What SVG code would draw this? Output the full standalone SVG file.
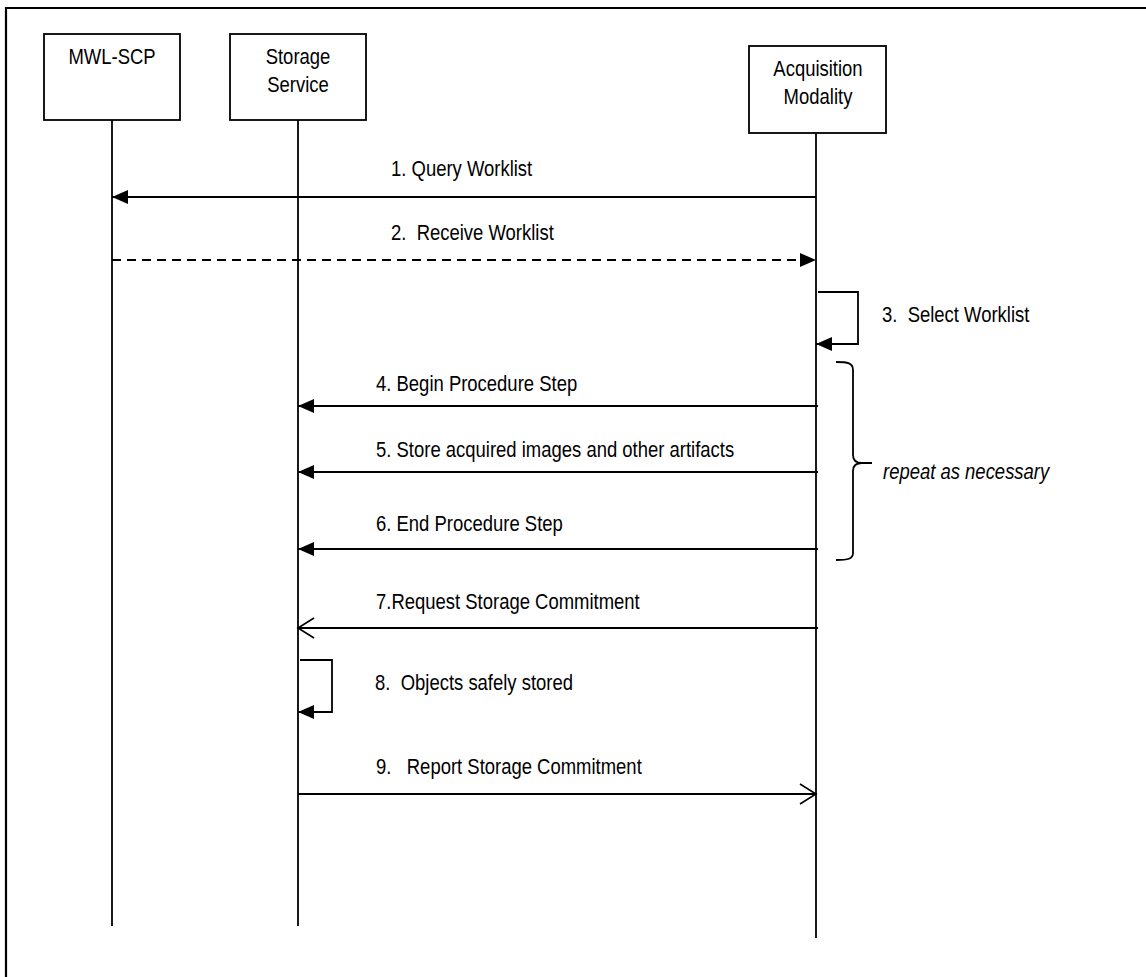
<svg xmlns="http://www.w3.org/2000/svg" width="1146" height="977" viewBox="0 0 1146 977">
<defs>
<style>
.t{font-family:"Liberation Sans",Arial,sans-serif;font-size:22px;fill:#000;white-space:pre}
.box{fill:#fff;stroke:#000;stroke-width:1.8}
.life{stroke:#000;stroke-width:1.8;fill:none}
.msg{stroke:#000;stroke-width:1.8;fill:none}
</style>
<marker id="fh" markerUnits="userSpaceOnUse" markerWidth="18" markerHeight="16" refX="16" refY="7" orient="auto">
<path d="M0,0 L16,7 L0,14 Z" fill="#000"/>
</marker>
<marker id="oh" markerUnits="userSpaceOnUse" markerWidth="20" markerHeight="24" refX="17" refY="11" orient="auto">
<path d="M1,1 L17,11 L1,21" fill="none" stroke="#000" stroke-width="1.6"/>
</marker>
</defs>
<rect width="1146" height="977" fill="#fff"/>
<path d="M6,977 L6,8 L1146,8" fill="none" stroke="#000" stroke-width="2.2"/>

<g id="mwl">
<rect class="box" x="44" y="34" width="136" height="86"/>
<text class="t" text-anchor="middle" transform="translate(112,64) scale(0.84,1)">MWL-SCP</text>
<line class="life" x1="112" y1="120" x2="112" y2="926"/>
</g>
<g id="storage">
<rect class="box" x="230" y="34" width="136" height="86"/>
<text class="t" text-anchor="middle" transform="translate(298,64) scale(0.84,1)">Storage</text>
<text class="t" text-anchor="middle" transform="translate(298,92) scale(0.84,1)">Service</text>
<line class="life" x1="298" y1="120" x2="298" y2="926"/>
</g>
<g id="modality">
<rect class="box" x="749" y="46" width="137" height="87"/>
<text class="t" text-anchor="middle" transform="translate(818,76) scale(0.84,1)">Acquisition</text>
<text class="t" text-anchor="middle" transform="translate(818,104) scale(0.84,1)">Modality</text>
<line class="life" x1="816" y1="133" x2="816" y2="938"/>
</g>

<g id="connectors">
<line class="msg" x1="816" y1="197" x2="112" y2="197" marker-end="url(#fh)"/>
<line class="msg" x1="112" y1="260" x2="816" y2="260" stroke-dasharray="9,6" marker-end="url(#fh)"/>
<polyline class="msg" points="818,292 858,292 858,344 816,344" marker-end="url(#fh)"/>
<line class="msg" x1="818" y1="406" x2="298" y2="406" marker-end="url(#fh)"/>
<line class="msg" x1="818" y1="472" x2="298" y2="472" marker-end="url(#fh)"/>
<line class="msg" x1="818" y1="549" x2="298" y2="549" marker-end="url(#fh)"/>
<line class="msg" x1="818" y1="628" x2="298" y2="628" marker-end="url(#oh)"/>
<polyline class="msg" points="300,660 332,660 332,712 298,712" marker-end="url(#fh)"/>
<line class="msg" x1="298" y1="794" x2="816" y2="794" marker-end="url(#oh)"/>
<path class="msg" d="M836,362 C848,362 853,363 853,370 L853,455 C853,461 856,463 862,463 L872,463 M862,463 C856,463 853,465 853,471 L853,553 C853,559 848,560 836,560"/>
</g>

<g id="labels">
<text class="t" transform="translate(391,176) scale(0.84,1)">1. Query Worklist</text>
<text class="t" transform="translate(391,240) scale(0.84,1)">2.  Receive Worklist</text>
<text class="t" transform="translate(882,322) scale(0.84,1)">3.  Select Worklist</text>
<text class="t" transform="translate(376,391) scale(0.84,1)">4. Begin Procedure Step</text>
<text class="t" transform="translate(376,457) scale(0.84,1)">5. Store acquired images and other artifacts</text>
<text class="t" transform="translate(376,531) scale(0.84,1)">6. End Procedure Step</text>
<text class="t" transform="translate(376,609) scale(0.84,1)">7.Request Storage Commitment</text>
<text class="t" transform="translate(375,690) scale(0.84,1)">8.  Objects safely stored</text>
<text class="t" transform="translate(376,774) scale(0.84,1)">9.   Report Storage Commitment</text>
<text class="t" font-style="italic" transform="translate(883,479) scale(0.84,1)">repeat as necessary</text>
</g>
</svg>
